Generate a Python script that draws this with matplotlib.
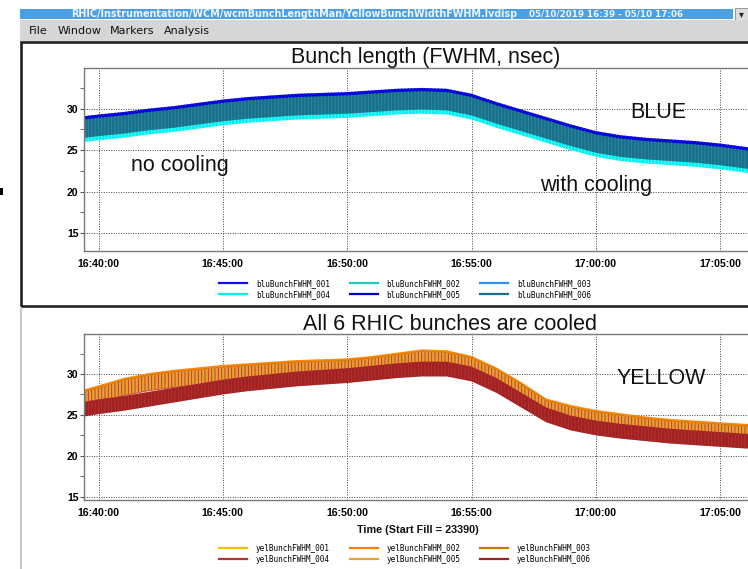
import numpy as np
import pandas as pd
import matplotlib
matplotlib.use("Agg")
import matplotlib.pyplot as plt
import matplotlib.dates as mdates
from matplotlib.patches import Rectangle
from matplotlib.lines import Line2D
from matplotlib.ticker import MultipleLocator

# time stamps (05/10/2019), one reading per minute of the band centre
times = ["16:39:25", "16:40", "16:41", "16:42", "16:43", "16:44", "16:45", "16:46",
         "16:47", "16:48", "16:49", "16:50", "16:51", "16:52", "16:53", "16:54",
         "16:55", "16:56", "16:57", "16:58", "16:59", "17:00", "17:01", "17:02",
         "17:03", "17:04", "17:05", "17:06", "17:07"]

# blue ring, bunch length FWHM [ns]
blu_001 = [28.0, 28.2, 28.5, 28.9, 29.2, 29.6, 30.0, 30.3, 30.5, 30.7, 30.8, 30.9, 31.1, 31.3, 31.4,
           31.3, 30.7, 29.7, 28.8, 27.9, 27.0, 26.2, 25.7, 25.4, 25.2, 25.0, 24.7, 24.3, 24.0]
blu_002 = [27.4, 27.6, 27.9, 28.3, 28.6, 29.0, 29.4, 29.7, 29.9, 30.1, 30.2, 30.3, 30.5, 30.7, 30.8,
           30.7, 30.1, 29.1, 28.2, 27.3, 26.4, 25.6, 25.1, 24.8, 24.6, 24.4, 24.1, 23.7, 23.4]
blu_003 = [27.6, 27.8, 28.1, 28.5, 28.8, 29.2, 29.6, 29.9, 30.1, 30.3, 30.4, 30.5, 30.7, 30.9, 31.0,
           30.9, 30.3, 29.3, 28.4, 27.5, 26.6, 25.8, 25.3, 25.0, 24.8, 24.6, 24.3, 23.9, 23.6]
blu_004 = [27.1, 27.3, 27.6, 28.0, 28.3, 28.7, 29.1, 29.4, 29.6, 29.8, 29.9, 30.0, 30.2, 30.4, 30.5,
           30.4, 29.8, 28.8, 27.9, 27.0, 26.1, 25.3, 24.8, 24.5, 24.3, 24.1, 23.8, 23.4, 23.1]
blu_005 = [27.8, 28.0, 28.3, 28.7, 29.0, 29.4, 29.8, 30.1, 30.3, 30.5, 30.6, 30.7, 30.9, 31.1, 31.2,
           31.1, 30.5, 29.5, 28.6, 27.7, 26.8, 26.0, 25.5, 25.2, 25.0, 24.8, 24.5, 24.1, 23.8]
blu_006 = [27.6, 27.8, 28.1, 28.5, 28.8, 29.2, 29.6, 29.9, 30.1, 30.3, 30.4, 30.5, 30.7, 30.9, 31.0,
           30.9, 30.3, 29.3, 28.4, 27.5, 26.6, 25.8, 25.3, 25.0, 24.8, 24.6, 24.3, 23.9, 23.6]
blu_noise = 1.1   # half height of the noisy band

# yellow ring
yel_001 = [27.1, 27.6, 28.5, 29.1, 29.5, 29.8, 30.1, 30.3, 30.5, 30.7, 30.8, 30.9, 31.2, 31.6, 32.0,
           31.9, 31.2, 29.8, 28.0, 26.0, 25.2, 24.6, 24.2, 23.8, 23.5, 23.3, 23.1, 22.9, 22.8]
yel_002 = [27.2, 27.7, 28.6, 29.2, 29.6, 29.9, 30.2, 30.4, 30.6, 30.8, 30.9, 31.0, 31.3, 31.7, 32.1,
           32.0, 31.3, 29.9, 28.1, 26.1, 25.3, 24.7, 24.3, 23.9, 23.6, 23.4, 23.2, 23.0, 22.9]
yel_003 = [27.0, 27.5, 28.4, 29.0, 29.4, 29.7, 30.0, 30.2, 30.4, 30.6, 30.7, 30.8, 31.1, 31.5, 31.9,
           31.8, 31.1, 29.7, 27.9, 25.9, 25.1, 24.5, 24.1, 23.7, 23.4, 23.2, 23.0, 22.8, 22.7]
yel_004 = [26.8, 27.3, 28.2, 28.8, 29.2, 29.5, 29.8, 30.0, 30.2, 30.4, 30.5, 30.6, 30.9, 31.3, 31.7,
           31.6, 30.9, 29.5, 27.7, 25.7, 24.9, 24.3, 23.9, 23.5, 23.2, 23.0, 22.8, 22.6, 22.5]
yel_005 = [26.9, 27.4, 28.3, 28.9, 29.3, 29.6, 29.9, 30.1, 30.3, 30.5, 30.6, 30.7, 31.0, 31.4, 31.8,
           31.7, 31.0, 29.6, 27.8, 25.8, 25.0, 24.4, 24.0, 23.6, 23.3, 23.1, 22.9, 22.7, 22.6]
yel_006 = [25.7, 26.0, 26.4, 26.9, 27.4, 27.9, 28.4, 28.8, 29.1, 29.4, 29.6, 29.8, 30.1, 30.4, 30.6,
           30.6, 30.0, 28.6, 26.8, 25.0, 24.0, 23.4, 23.0, 22.7, 22.4, 22.2, 22.0, 21.8, 21.7]
yel_noise = 0.9

blu_names = ["bluBunchFWHM_001", "bluBunchFWHM_002", "bluBunchFWHM_003",
             "bluBunchFWHM_004", "bluBunchFWHM_005", "bluBunchFWHM_006"]
yel_names = ["yelBunchFWHM_001", "yelBunchFWHM_002", "yelBunchFWHM_003",
             "yelBunchFWHM_004", "yelBunchFWHM_005", "yelBunchFWHM_006"]
blu_colors = ["#1010ee", "#20c8c0", "#3090f0", "#00eeee", "#0000c8", "#1a6f8a"]
yel_colors = ["#f2c200", "#ff7f00", "#c87800", "#b83232", "#e8a030", "#9e2222"]

W, H = 748, 569
fig = plt.figure(figsize=(W / 100, H / 100), dpi=100)
fig.patch.set_facecolor("white")


def px_rect(x0, y0, x1, y1, **kw):
    # rectangle given in screen pixels (origin top-left)
    r = Rectangle((x0 / W, 1 - y1 / H), (x1 - x0) / W, (y1 - y0) / H,
                  transform=fig.transFigure, **kw)
    fig.add_artist(r)
    return r


# window chrome
px_rect(20, 9, 733, 19, facecolor="#4aa0e2", edgecolor="none")
px_rect(735, 8, 748, 20, facecolor="#dcdcdc", edgecolor="#888888", lw=0.6)
fig.text(741.5 / W, 1 - 14 / H, "\u25be", fontsize=7, color="#222222", ha="center", va="center")
fig.text(71 / W, 1 - 14 / H,
         "RHIC/Instrumentation/WCM/wcmBunchLengthMan/YellowBunchWidthFWHM.lvdisp",
         fontsize=6.9, fontweight="bold", color="#eef4ff", va="center")
fig.text(529 / W, 1 - 14 / H, "05/10/2019 16:39 - 05/10 17:06",
         fontsize=6.3, fontweight="bold", color="#eef4ff", va="center")
px_rect(20, 19.5, 748, 40.5, facecolor="#d6d6d6", edgecolor="none")
for label, xp in [("File", 29), ("Window", 58), ("Markers", 110), ("Analysis", 164)]:
    fig.text(xp / W, 1 - 31 / H, label, fontsize=8, color="#111111", va="center")
px_rect(21, 42, 770, 306, facecolor="none", edgecolor="#222222", lw=1.9)
px_rect(20, 308, 21.5, 569, facecolor="#c8c8c8", edgecolor="none")
px_rect(0, 188, 2.5, 195, facecolor="black", edgecolor="none")

t = pd.to_datetime(["2019-05-10 " + s for s in times], format="mixed")
x0 = pd.Timestamp("2019-05-10 16:39:25")
x1 = pd.Timestamp("2019-05-10 17:07:00")

tick_font = dict(family="Liberation Sans", size=7.6, weight="bold")


def setup(ax, ylim):
    ax.set_xlim(x0, x1)
    ax.set_ylim(*ylim)
    ax.xaxis.set_major_locator(mdates.MinuteLocator(byminute=range(0, 60, 5)))
    ax.xaxis.set_major_formatter(mdates.DateFormatter("%H:%M:%S"))
    ax.yaxis.set_major_locator(MultipleLocator(5))
    ax.yaxis.set_minor_locator(MultipleLocator(2.5))
    ax.grid(True, which="major", color="#444444", linestyle=(0, (1, 1.5)), lw=0.7)
    ax.tick_params(axis="x", length=0, pad=6)
    ax.tick_params(axis="y", which="major", length=3, pad=1, color="#555555")
    ax.tick_params(axis="y", which="minor", length=3, color="#555555")
    for lab in ax.get_xticklabels() + ax.get_yticklabels():
        lab.set_fontproperties(tick_font)
    for s in ax.spines.values():
        s.set_color("#7a7a7a")
        s.set_linewidth(1.0)
    ax.set_axisbelow(True)


def band(ax, values, noise, color, hatch_color):
    v = np.array(values)
    ax.fill_between(t, v - noise, v + noise, facecolor=color, edgecolor=hatch_color,
                    hatch="|||||", linewidth=0)


plt.rcParams["hatch.linewidth"] = 0.6

ax1 = fig.add_axes([84 / W, 1 - 251 / H, 686 / W, 183 / H])
setup(ax1, (12.86, 34.9))
blu_series = [blu_001, blu_002, blu_003, blu_004, blu_005, blu_006]
blu_hatch = ["#0000b0", "#40e0e0", "#1070d0", "#60ffff", "#2020ff", "#2a8aa0"]
for vals, col, hc in zip(blu_series, blu_colors, blu_hatch):
    band(ax1, vals, blu_noise, col, hc)

ax2 = fig.add_axes([84 / W, 1 - 500 / H, 686 / W, 165.7 / H])
setup(ax2, (14.6, 34.85))
yel_series = [yel_001, yel_002, yel_003, yel_004, yel_005, yel_006]
yel_hatch = ["#ffd830", "#ff9a20", "#e09000", "#ff8a20", "#b83232", "#c03030"]
for vals, col, hc in zip(yel_series, yel_colors, yel_hatch):
    band(ax2, vals, yel_noise, col, hc)

# annotations
txt = dict(family="Liberation Sans", size=15.5, color="#111111", va="center")
fig.text(425.5 / W, 1 - 58 / H, "Bunch length (FWHM, nsec)", ha="center", **txt)
fig.text(131 / W, 1 - 166 / H, "no cooling", ha="left", **txt)
fig.text(630 / W, 1 - 113 / H, "BLUE", ha="left", **txt)
fig.text(540 / W, 1 - 186 / H, "with cooling", ha="left", **txt)
fig.text(450 / W, 1 - 325 / H, "All 6 RHIC bunches are cooled", ha="center", **txt)
fig.text(617 / W, 1 - 379 / H, "YELLOW", ha="left", **txt)
fig.text(418 / W, 1 - 530 / H, "Time (Start Fill = 23390)", ha="center", va="center",
         family="Liberation Sans", size=7.8, weight="bold", color="#111111")


def legend(names, colors, ycen):
    handles = [Line2D([], [], color=c, lw=1.6) for c in colors]
    order = [0, 3, 1, 4, 2, 5]   # matplotlib fills columns first
    fig.legend([handles[i] for i in order], [names[i] for i in order],
               ncol=3, loc="center", bbox_to_anchor=(405 / W, 1 - ycen / H),
               frameon=False, prop=dict(family="DejaVu Sans Mono", size=5.5),
               handlelength=3.7, handletextpad=1.1, columnspacing=2.6,
               labelspacing=0.25, borderpad=0)


legend(blu_names, blu_colors, 289)
legend(yel_names, yel_colors, 554)

fig.savefig("out.png", dpi=100)
